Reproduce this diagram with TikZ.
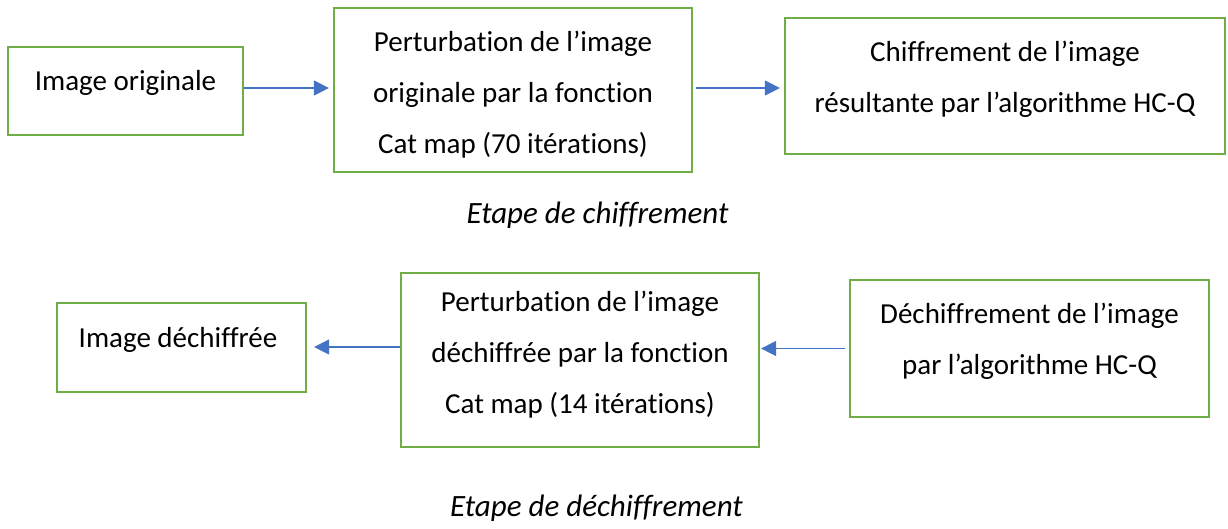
\documentclass[tikz,border=0pt]{standalone}
\usepackage{fontspec}
\setmainfont{Carlito}[Ligatures=NoCommon]
\usetikzlibrary{arrows.meta}
\definecolor{boxgreen}{HTML}{70AD47}
\definecolor{arrowblue}{HTML}{4472C4}
\begin{document}
\begin{tikzpicture}[x=1pt,y=-1pt,
  stepbox/.style={draw=boxgreen, line width=2.2pt, inner sep=0pt},
  lbl/.style={inner sep=0pt, align=center, font=\fontsize{29}{51}\selectfont},
  caption/.style={inner sep=0pt, font=\fontsize{31}{36}\selectfont\itshape},
  flow/.style={draw=arrowblue, line width=1.2pt, -{Triangle[length=15pt,width=15pt]}}]
\useasboundingbox (0,0) rectangle (1228,528);

% encryption stage
\node[stepbox, minimum width=235pt, minimum height=88pt] (b1) at (125.5,91) {};
\node[stepbox, minimum width=358pt, minimum height=164pt] (b2) at (513,90) {};
\node[stepbox, minimum width=440pt, minimum height=136pt] (b3) at (1005,86) {};
\node[lbl] (t1) at (125.5,83) {Image originale};
\node[lbl] (t2) at (513,95) {Perturbation de l’image\\originale par la fonction\\Cat map (70 itérations)};
\node[lbl] (t3) at (1005,79) {Chiffrement de l’image\\résultante par l’algorithme HC-Q};
\node[caption] (c1) at (597.5,215) {Etape de chiffrement};

\coordinate (p1) at ([yshift=3pt]b1.east);
\draw[flow, shorten >=4pt] (p1) -- (p1 -| b2.west);
\coordinate (p2) at ([xshift=3pt,yshift=2pt]b2.east);
\draw[flow, shorten >=4pt] (p2) -- (p2 -| b3.west);

% decryption stage
\node[stepbox, minimum width=249pt, minimum height=89pt] (d1) at (181.5,347.5) {};
\node[stepbox, minimum width=358pt, minimum height=174pt] (d2) at (580,360) {};
\node[stepbox, minimum width=359pt, minimum height=137pt] (d3) at (1029.5,348.5) {};
\node[lbl] (u1) at (178,340) {Image déchiffrée};
\node[lbl] (u2) at (580,355) {Perturbation de l’image\\déchiffrée par la fonction\\Cat map (14 itérations)};
\node[lbl] (u3) at (1029.5,341.5) {Déchiffrement de l’image\\par l’algorithme HC-Q};
\node[caption] (c2) at (596.5,508) {Etape de déchiffrement};

\coordinate (q1) at ([yshift=13pt]d2.west);
\draw[flow, shorten >=7pt] (q1) -- (q1 -| d1.east);
\coordinate (q2) at ([xshift=-4pt]d3.west);
\draw[flow, shorten >=1pt] (q2) -- (q2 -| d2.east);
\end{tikzpicture}
\end{document}
